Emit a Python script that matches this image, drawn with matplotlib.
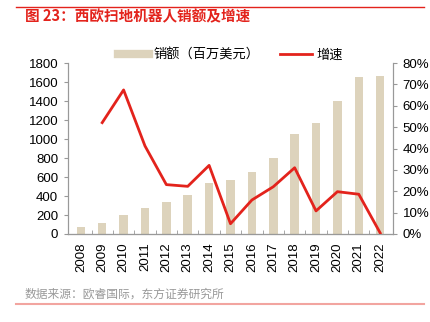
import matplotlib
matplotlib.use('Agg')
import matplotlib.pyplot as plt
from matplotlib.lines import Line2D
import numpy as np

plt.rcParams['font.family'] = ['Liberation Sans', 'Noto Sans CJK SC', 'DejaVu Sans']

years = ['2008', '2009', '2010', '2011', '2012', '2013', '2014', '2015',
         '2016', '2017', '2018', '2019', '2020', '2021', '2022']
sales = [77, 119, 197, 274, 337, 410, 540, 568, 656, 803, 1053, 1168, 1397, 1656, 1667]
growth = [np.nan, 52.1, 67.4, 41.2, 23.1, 22.3, 32.1, 4.8, 15.9, 22.1, 31.0, 10.8, 19.8, 18.6, 0.5]

bar_color = '#DDD3BC'
line_color = '#E3231C'
spine_color = '#999999'

fig = plt.figure(figsize=(4.30, 3.22), dpi=100)
ax = fig.add_axes([68 / 430, 1 - 234 / 322, (393 - 68) / 430, (234 - 63) / 322])
ax2 = ax.twinx()

x = np.arange(len(years))
ax.bar(x, sales, width=0.4, color=bar_color, zorder=1)
ax2.plot(x, growth, color=line_color, linewidth=2, zorder=3)

ax.set_xlim(-0.6, len(years) - 0.4)
ax.set_ylim(0, 1800)
ax.set_yticks(np.arange(0, 1801, 200))
ax2.set_ylim(0, 80)
ax2.set_yticks(np.arange(0, 81, 10))
ax2.set_yticklabels(['{}%'.format(v) for v in range(0, 81, 10)])

ax.set_xticks(x)
ax.set_xticklabels(years, rotation=90)
ax.set_xticks(x[:-1] + 0.5, minor=True)
ax.tick_params(axis='x', which='major', length=0, labelsize=9.5, pad=6)
ax.tick_params(axis='x', which='minor', length=3, direction='in', color=spine_color)
ax.tick_params(axis='y', labelsize=9.5, length=3, color=spine_color, pad=4)
ax2.tick_params(axis='y', labelsize=9.5, length=3, color=spine_color, pad=4)

for a in (ax, ax2):
    a.spines['top'].set_visible(False)
    for s in ('left', 'right', 'bottom'):
        a.spines[s].set_color(spine_color)
ax.spines['bottom'].set_color('#555555')

handles = [Line2D([], [], color=bar_color, linewidth=6),
           Line2D([], [], color=line_color, linewidth=2)]
fig.legend(handles, ['销额（百万美元）', '增速'], loc='center', ncol=2,
           bbox_to_anchor=(0.535, 1 - 55 / 322), frameon=False,
           handlelength=2.4, columnspacing=1.6, handletextpad=0.3,
           prop={'family': ['Noto Sans CJK SC', 'DejaVu Sans'], 'size': 9.5})

fig.add_artist(Line2D([16 / 430, 1 - 6 / 430], [1 - 7 / 322, 1 - 7 / 322],
                      color=line_color, linewidth=1))
fig.text(25 / 430, 1 - 16 / 322, '图 23：西欧扫地机器人销额及增速', color=line_color,
         fontsize=10.5, fontweight='bold', va='center',
         family=['Noto Sans CJK SC', 'DejaVu Sans'])
fig.text(25 / 430, 1 - 294 / 322, '数据来源：欧睿国际，东方证券研究所', color='#999999',
         fontsize=8.5, va='center', family=['Noto Sans CJK SC', 'DejaVu Sans'])
fig.add_artist(Line2D([16 / 430, 1 - 6 / 430], [1 - 304 / 322, 1 - 304 / 322],
                      color='#F2A5A0', linewidth=1.5))

plt.savefig('out.png', dpi=100)
plt.close()
